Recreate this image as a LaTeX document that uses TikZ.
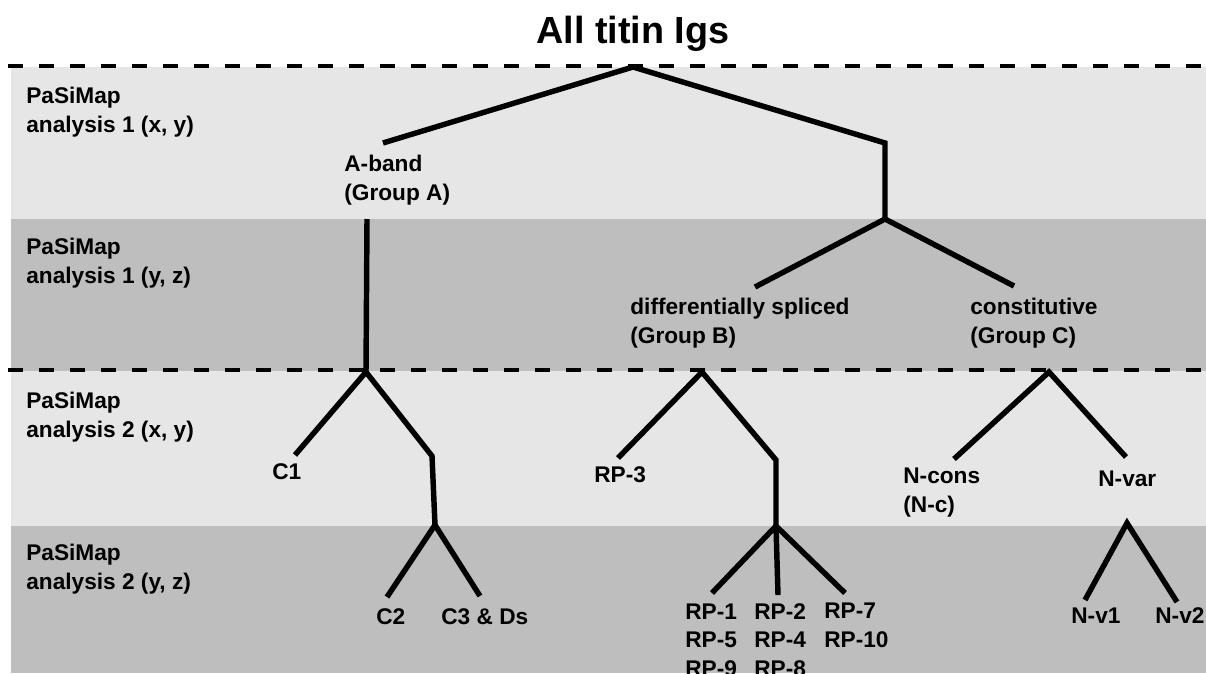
\documentclass[tikz,border=0pt]{standalone}
\usepackage{fontspec}
\setmainfont{Liberation Sans}
\usepackage{xcolor}
\definecolor{bandlight}{HTML}{E6E6E6}
\definecolor{banddark}{HTML}{BEBEBE}

\begin{document}
\begin{tikzpicture}[x=0.02cm, y=-0.02cm,
    branch/.style={line width=3.1pt, line join=miter},
    divider/.style={line width=2.7pt, dash pattern=on 0.3cm off 0.32cm},
    lbl/.style={anchor=base west, inner sep=0pt, align=left, font=\fontsize{12.9}{16.2}\selectfont\bfseries}]
    \clip (0,0) rectangle (1206,673);

    % Bands
    \fill[bandlight] (11,67) rectangle (1206,219);
    \fill[banddark] (11,219) rectangle (1206,371);
    \fill[bandlight] (11,371) rectangle (1206,526);
    \fill[banddark] (11,526) rectangle (1206,673);

    % Dashed dividers
    \coordinate (d1a) at (8,66);
    \coordinate (d1b) at (1206,66);
    \coordinate (d2a) at (8,370);
    \coordinate (d2b) at (1206,370);
    \draw[divider] (d1a) -- (d1b);
    \draw[divider] (d2a) -- (d2b);

    % Title
    \node[anchor=base, inner sep=0pt, font=\fontsize{21.5}{26}\selectfont\bfseries] (title) at (633,43) {All titin Igs};

    % Row texts (base = last line)
    \node[lbl] (row1) at (26,132) {PaSiMap\\analysis 1 (x, y)};
    \node[lbl] (row2) at (26,283) {PaSiMap\\analysis 1 (y, z)};
    \node[lbl] (row3) at (26,437) {PaSiMap\\analysis 2 (x, y)};
    \node[lbl] (row4) at (26,589) {PaSiMap\\analysis 2 (y, z)};

    % Coordinates
    \coordinate (root) at (633,67);
    \coordinate (aend) at (383,143);
    \coordinate (bctop) at (885,143);
    \coordinate (bc) at (885,219);
    \coordinate (bend) at (755,287);
    \coordinate (cend) at (1014,286);
    \coordinate (atop) at (367,219);
    \coordinate (asplit) at (366,372);
    \coordinate (c1end) at (295,455);
    \coordinate (arm) at (432,456);
    \coordinate (asub) at (435,525);
    \coordinate (c2end) at (387,597);
    \coordinate (c3end) at (480,596);
    \coordinate (bsplit) at (702,372);
    \coordinate (rp3end) at (618,458);
    \coordinate (brm) at (776,460);
    \coordinate (bsub) at (776,526);
    \coordinate (rp1end) at (712,593);
    \coordinate (rp2end) at (778,595);
    \coordinate (rp7end) at (845,593);
    \coordinate (csplit) at (1049,372);
    \coordinate (nconsend) at (954,459);
    \coordinate (nvarend) at (1126,457);
    \coordinate (nvtop) at (1127,523);
    \coordinate (nv1end) at (1085,600);
    \coordinate (nv2end) at (1177,602);

    % Group texts
    \node[lbl] (grpa) at (344,200) {A-band\\(Group A)};
    \node[lbl] (grpb) at (630,343) {differentially spliced\\(Group B)};
    \node[lbl] (grpc) at (970,343) {constitutive\\(Group C)};

    % Leaf texts
    \node[lbl] (c1) at (272,479) {C1};
    \node[lbl] (c2) at (376,624) {C2};
    \node[lbl] (c3) at (441,624) {C3 \& Ds};
    \node[lbl] (rp3) at (594,482) {RP-3};
    \node[lbl] (rpa) at (685,676) {RP-1\\RP-5\\RP-9};
    \node[lbl] (rpb) at (754,676) {RP-2\\RP-4\\RP-8};
    \node[lbl] (rpc) at (824,647) {RP-7\\RP-10};
    \node[lbl] (ncons) at (903,512) {N-cons\\(N-c)};
    \node[lbl] (nvar) at (1098,486) {N-var};
    \node[lbl] (nv1) at (1071,623) {N-v1};
    \node[lbl] (nv2) at (1155,623) {N-v2};

    % Lines
    \draw[branch] (aend) -- (root) -- (bctop) -- (bc);
    \draw[branch] (bend) -- (bc) -- (cend);
    \draw[branch] (atop) -- (asplit);
    \draw[branch] (c1end) -- (asplit) -- (arm) -- (asub);
    \draw[branch] (c2end) -- (asub) -- (c3end);
    \draw[branch] (rp3end) -- (bsplit) -- (brm) -- (bsub);
    \draw[branch] (rp1end) -- (bsub) -- (rp7end);
    \draw[branch] (bsub) -- (rp2end);
    \draw[branch] (nconsend) -- (csplit) -- (nvarend);
    \draw[branch] (nv1end) -- (nvtop) -- (nv2end);
\end{tikzpicture}
\end{document}
